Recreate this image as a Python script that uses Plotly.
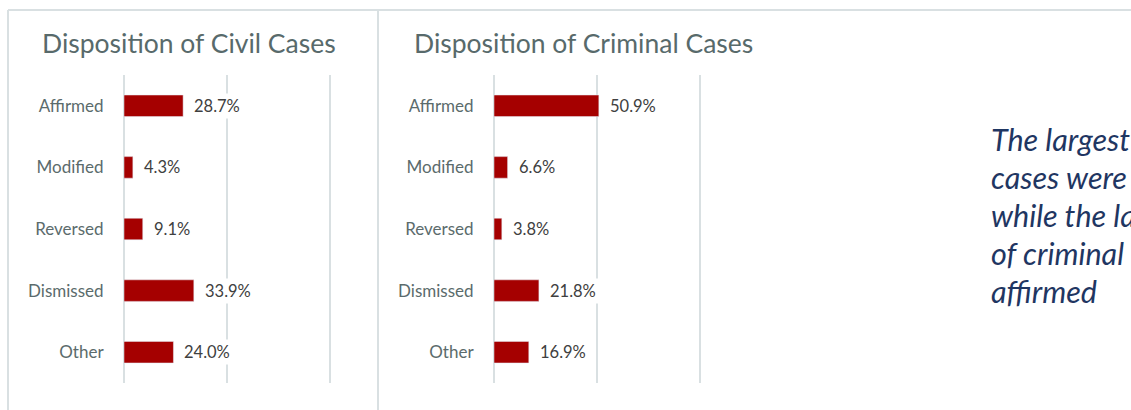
import plotly.graph_objects as go

W, H = 1131, 410

categories = ["Affirmed", "Modified", "Reversed", "Dismissed", "Other"]
civil_values = [28.7, 4.3, 9.1, 33.9, 24.0]
criminal_values = [50.9, 6.6, 3.8, 21.8, 16.9]
civil_title = "Disposition of Civil Cases"
criminal_title = "Disposition of Criminal Cases"
note_lines = ["The largest share of civil", "cases were dismissed,",
              "while the largest share", "of criminal cases were", "affirmed"]

BAR = "#a50000"
GRID = "#d9e0e2"
LABEL = "#5b6b6c"
VALUE = "#404040"
TITLE = "#586a6b"
NOTE = "#1f3662"
FONT = "Lato"

def px(x):
    return x / W

def py(y):
    return 1 - y / H

fig = go.Figure()
fig.add_trace(go.Bar(x=civil_values, y=categories, orientation="h",
                     marker=dict(color=BAR), xaxis="x", yaxis="y",
                     hoverinfo="skip", showlegend=False))
fig.add_trace(go.Bar(x=criminal_values, y=categories, orientation="h",
                     marker=dict(color=BAR), xaxis="x2", yaxis="y2",
                     hoverinfo="skip", showlegend=False))

XMAX = 100.8
SCALE = 2.06  # px per percent
ydom = [py(383), py(75)]
xcommon = dict(range=[0, XMAX], tickvals=[0, 50, 100], showgrid=True, gridcolor=GRID,
               gridwidth=1.3, zeroline=True, zerolinecolor=GRID, zerolinewidth=1.3,
               showticklabels=False, fixedrange=True)
ycommon = dict(autorange="reversed", showgrid=False, zeroline=False,
               ticks="outside", ticklen=16, tickcolor="rgba(0,0,0,0)",
               tickfont=dict(family=FONT, size=17, color=LABEL), fixedrange=True)

annotations = []
for vals, xa, ya in [(civil_values, "x", "y"), (criminal_values, "x2", "y2")]:
    for c, v in zip(categories, vals):
        annotations.append(dict(x=v, y=c, xref=xa, yref=ya, text=f"{v:.1f}%",
                                showarrow=False, xanchor="left", xshift=8,
                                bgcolor="white", borderpad=2,
                                font=dict(family=FONT, size=16.5, color=VALUE)))

annotations.append(dict(x=px(40), y=py(43), xref="paper", yref="paper", text=civil_title,
                        showarrow=False, xanchor="left", yanchor="middle",
                        font=dict(family=FONT, size=26.5, color=TITLE)))
annotations.append(dict(x=px(412), y=py(43), xref="paper", yref="paper", text=criminal_title,
                        showarrow=False, xanchor="left", yanchor="middle",
                        font=dict(family=FONT, size=26.5, color=TITLE)))

note_y = [139, 177, 215, 253, 291]
for t, yy in zip(note_lines, note_y):
    annotations.append(dict(x=px(989), y=py(yy), xref="paper", yref="paper",
                            text=f"<i>{t}</i>", showarrow=False, xanchor="left",
                            yanchor="middle",
                            font=dict(family=FONT, size=30.5, color=NOTE)))

shapes = [
    dict(type="line", xref="paper", yref="paper", x0=px(8), x1=1.0, y0=py(10), y1=py(10),
         line=dict(color=GRID, width=2)),
    dict(type="line", xref="paper", yref="paper", x0=px(8), x1=px(8), y0=py(10), y1=0,
         line=dict(color=GRID, width=2)),
    dict(type="line", xref="paper", yref="paper", x0=px(378), x1=px(378), y0=py(10), y1=0,
         line=dict(color=GRID, width=2)),
]

fig.update_layout(
    width=W, height=H,
    margin=dict(l=0, r=0, t=0, b=0),
    paper_bgcolor="white", plot_bgcolor="white",
    bargap=0.65,
    xaxis=dict(domain=[px(124), px(124 + XMAX * SCALE)], anchor="y", **xcommon),
    yaxis=dict(domain=ydom, anchor="x", **ycommon),
    xaxis2=dict(domain=[px(494), px(494 + XMAX * SCALE)], anchor="y2", **xcommon),
    yaxis2=dict(domain=ydom, anchor="x2", **ycommon),
    annotations=annotations,
    shapes=shapes,
    font=dict(family=FONT),
)

fig.write_html("out.html",
               config={"displayModeBar": False, "staticPlot": True},
               post_script="document.body.style.margin='0';document.body.style.overflow='hidden';")
